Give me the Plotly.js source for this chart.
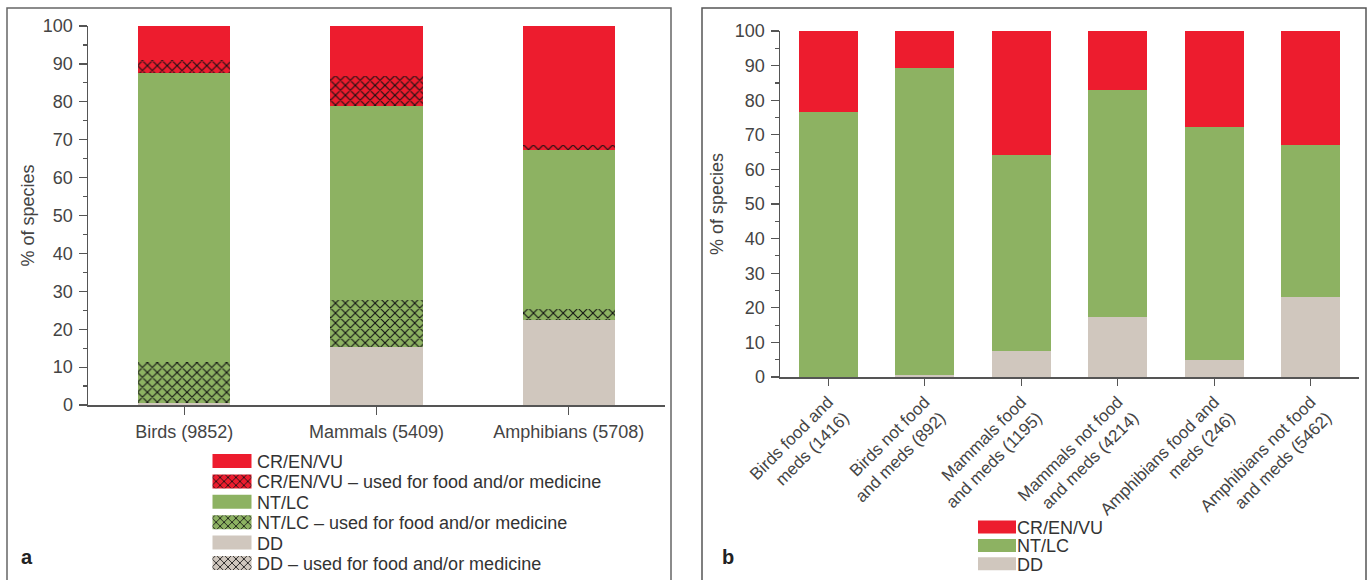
<!DOCTYPE html>
<html>
<head>
<meta charset="utf-8">
<script src="https://cdn.plot.ly/plotly-3.0.1.min.js"></script>
<style>html,body{margin:0;padding:0;background:#fff;}#chart{width:1370px;height:580px;}</style>
</head>
<body>
<div id="chart"></div>
<script>
// ---------- data: panel a ----------
const catsA = ['Birds (9852)', 'Mammals (5409)', 'Amphibians (5708)'];
const ddA      = [0.4, 15.3, 22.4];
const ddFoodA  = [0, 0, 0];
const ntFoodA  = [11.0, 12.5, 2.9];
const ntA      = [76.1, 51.0, 42.1];
const crFoodA  = [3.4, 7.9, 1.2];
const crA      = [9.1, 13.3, 31.4];

// ---------- data: panel b ----------
const catsB = ['Birds food and<br>meds (1416)', 'Birds not food<br>and meds (892)', 'Mammals food<br>and meds (1195)',
               'Mammals not food<br>and meds (4214)', 'Amphibians food and<br>meds (246)', 'Amphibians not food<br>and meds (5462)'];
const ddB = [0, 0.5, 7.5, 17.3, 5.0, 23.1];
const ntB = [76.5, 88.8, 56.8, 65.6, 67.2, 44.0];
const crB = [23.5, 10.7, 35.7, 17.1, 27.8, 32.9];

const yTicks = [0, 10, 20, 30, 40, 50, 60, 70, 80, 90, 100];

// ---------- styles ----------
const RED = '#ED1C2E', GREEN = '#8DB262', GREY = '#D0C7BE';
const FONT = 'Liberation Sans, Arial, sans-serif';
const W = 1370, H = 580;
const px = v => v / W, py = v => 1 - v / H;

function hatch(color) {
  return {color: color, line: {width: 0},
          pattern: {shape: 'x', fgcolor: '#111', bgcolor: color, size: 7, solidity: 0.28, fillmode: 'replace'}};
}
function solid(color) { return {color: color, line: {width: 0}}; }

const wA = 0.48, wB = 0.61;
const traces = [
  {type: 'bar', name: 'DD', x: catsA, y: ddA, marker: solid(GREY), width: wA, xaxis: 'x', yaxis: 'y', legend: 'legend', legendrank: 5},
  {type: 'bar', name: 'DD – used for food and/or medicine', x: catsA, y: ddFoodA, marker: hatch(GREY), width: wA, xaxis: 'x', yaxis: 'y', legend: 'legend', legendrank: 6},
  {type: 'bar', name: 'NT/LC – used for food and/or medicine', x: catsA, y: ntFoodA, marker: hatch(GREEN), width: wA, xaxis: 'x', yaxis: 'y', legend: 'legend', legendrank: 4},
  {type: 'bar', name: 'NT/LC', x: catsA, y: ntA, marker: solid(GREEN), width: wA, xaxis: 'x', yaxis: 'y', legend: 'legend', legendrank: 3},
  {type: 'bar', name: 'CR/EN/VU – used for food and/or medicine', x: catsA, y: crFoodA, marker: hatch(RED), width: wA, xaxis: 'x', yaxis: 'y', legend: 'legend', legendrank: 2},
  {type: 'bar', name: 'CR/EN/VU', x: catsA, y: crA, marker: solid(RED), width: wA, xaxis: 'x', yaxis: 'y', legend: 'legend', legendrank: 1},

  {type: 'bar', name: 'DD', x: catsB, y: ddB, marker: solid(GREY), width: wB, xaxis: 'x2', yaxis: 'y2', legend: 'legend2', legendrank: 3},
  {type: 'bar', name: 'NT/LC', x: catsB, y: ntB, marker: solid(GREEN), width: wB, xaxis: 'x2', yaxis: 'y2', legend: 'legend2', legendrank: 2},
  {type: 'bar', name: 'CR/EN/VU', x: catsB, y: crB, marker: solid(RED), width: wB, xaxis: 'x2', yaxis: 'y2', legend: 'legend2', legendrank: 1}
];

const tickFont = {family: FONT, size: 18, color: '#444'};
function yAxis(domain, anchor, standoff) {
  return {domain: domain, anchor: anchor, range: [0, 100], tickmode: 'array', tickvals: yTicks,
          ticks: 'outside', ticklen: 8, tickwidth: 1.2, tickcolor: '#555',
          minor: {dtick: 5, tick0: 0, ticks: 'outside', ticklen: 4, tickwidth: 1.2, tickcolor: '#555'},
          showline: true, linecolor: '#555', linewidth: 1.5, showgrid: false, zeroline: false,
          tickfont: tickFont, ticklabelstandoff: 2,
          title: {text: '% of species', font: {family: FONT, size: 18, color: '#444'}, standoff: standoff}};
}

const layout = {
  width: W, height: H, margin: {l: 0, r: 0, t: 0, b: 0, autoexpand: false},
  paper_bgcolor: '#fff', plot_bgcolor: 'rgba(0,0,0,0)',
  barmode: 'stack', font: {family: FONT, color: '#444'},
  xaxis: {domain: [px(88), px(665)], anchor: 'y', type: 'category', categoryarray: catsA,
          ticks: 'outside', ticklen: 8, tickwidth: 1.2, tickcolor: '#555',
          showline: true, linecolor: '#555', linewidth: 1.5, showgrid: false, zeroline: false,
          tickfont: tickFont, range: [-0.5, 2.5], ticklabelstandoff: 2},
  yaxis: yAxis([py(405), py(26)], 'x', 3),
  xaxis3: {domain: [px(88), px(665)], anchor: 'y', overlaying: 'x', range: [-0.5, 2.5],
           tickmode: 'array', tickvals: [-0.5, 0.5, 1.5, 2.5], ticks: 'outside', ticklen: 4, tickwidth: 1.2, tickcolor: '#555',
           showticklabels: false, showline: false, showgrid: false, zeroline: false},
  xaxis2: {domain: [px(780), px(1359)], anchor: 'y2', type: 'category', categoryarray: catsB,
           ticks: 'outside', ticklen: 7, tickwidth: 1.2, tickcolor: '#555',
           showline: true, linecolor: '#555', linewidth: 1.5, showgrid: false, zeroline: false,
           tickfont: {family: FONT, size: 17, color: '#444'}, tickangle: -45, range: [-0.5, 5.5]},
  yaxis2: yAxis([py(377), py(31)], 'x2', 6),
  xaxis4: {domain: [px(780), px(1359)], anchor: 'y2', overlaying: 'x2', range: [-0.5, 5.5],
           tickmode: 'array', tickvals: [-0.5, 0.5, 1.5, 2.5, 3.5, 4.5, 5.5], ticks: 'outside', ticklen: 4, tickwidth: 1.2, tickcolor: '#555',
           showticklabels: false, showline: false, showgrid: false, zeroline: false},
  legend: {x: px(212), y: py(380), xanchor: 'left', yanchor: 'top', bgcolor: 'rgba(0,0,0,0)',
           font: {family: FONT, size: 18, color: '#333'}, traceorder: 'normal', itemclick: false},
  legend2: {x: px(977), y: py(440), xanchor: 'left', yanchor: 'top', bgcolor: 'rgba(0,0,0,0)',
            font: {family: FONT, size: 18, color: '#333'}, traceorder: 'normal', itemclick: false},
  shapes: [
    {type: 'rect', xref: 'paper', yref: 'paper', x0: px(7), x1: px(671), y0: -0.05, y1: py(8), line: {color: '#666', width: 1.5}},
    {type: 'rect', xref: 'paper', yref: 'paper', x0: px(702), x1: px(1366), y0: -0.05, y1: py(8), line: {color: '#555', width: 1.5}}
  ],
  annotations: [
    {xref: 'paper', yref: 'paper', x: px(19), y: py(557), xanchor: 'left', yanchor: 'middle', text: '<b>a</b>', showarrow: false,
     font: {family: FONT, size: 20, color: '#222'}},
    {xref: 'paper', yref: 'paper', x: px(720), y: py(557), xanchor: 'left', yanchor: 'middle', text: '<b>b</b>', showarrow: false,
     font: {family: FONT, size: 20, color: '#222'}}
  ],
  showlegend: true
};

// Place legend rows at the reference spacing and widen the swatches.
function tweakLegend(cls, firstCenterY, spacing, swW, swH, textX) {
  const lg = document.querySelector('g.' + cls);
  if (!lg) return;
  const parse = el => {
    const m = /translate\(\s*([-\d.]+)[ ,]+([-\d.]+)\)/.exec(el.getAttribute('transform') || '');
    return m ? [parseFloat(m[1]), parseFloat(m[2])] : [0, 0];
  };
  const items = Array.from(lg.querySelectorAll('g.traces'));
  items.sort((a, b) => parse(a)[1] - parse(b)[1]);
  if (!items.length) return;
  const [x0, y0] = parse(items[0]);
  items.forEach((it, i) => {
    it.setAttribute('transform', 'translate(' + x0 + ',' + (y0 + i * spacing) + ')');
    const hw = swW / 2, hh = swH / 2;
    it.querySelectorAll('g.legendpoints path').forEach(p =>
      p.setAttribute('d', 'M' + (-hw) + ',' + (-hh) + 'H' + hw + 'V' + hh + 'H' + (-hw) + 'Z'));
    const t = it.querySelector('text.legendtext');
    if (t) t.setAttribute('x', textX);
  });
  const [lx, ly] = parse(lg);
  lg.setAttribute('transform', 'translate(' + lx + ',' + (firstCenterY - y0) + ')');
}

Plotly.newPlot('chart', traces, layout, {displayModeBar: false, staticPlot: true}).then(() => {
  tweakLegend('legend', 461, 20.4, 39, 14, 45);
  tweakLegend('legend2', 527, 18.4, 38, 13, 42);
});
</script>
</body>
</html>
